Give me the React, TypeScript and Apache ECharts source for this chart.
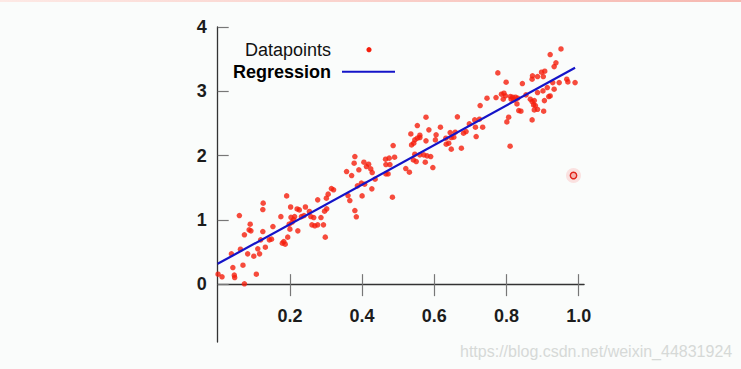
import React, { useEffect, useRef } from "react";
import * as echarts from "echarts";

const xTicks = [0.2, 0.4, 0.6, 0.8, 1.0];
const yTicks = [0, 1, 2, 3, 4];
const legendNames = ["Datapoints", "Regression"];
const watermark = "https://blog.csdn.net/weixin_44831924";

const regressionLine = [
  [0, 0.316],
  [0.99, 3.365],
];

const pointsA = [
  [0.191, 1.373], [0.126, 1.26], [0.125, 1.16], [0.202, 1.2], [0.22, 1.17], [0.226, 1.155],
  [0.243, 1.2], [0.06, 1.067], [0.175, 1.05], [0.203, 1.04], [0.213, 1.05], [0.232, 1.05],
  [0.239, 1.067], [0.21, 1.005], [0.206, 0.964], [0.09, 0.933], [0.153, 0.896], [0.198, 0.933],
  [0.087, 0.845], [0.092, 0.829], [0.125, 0.818], [0.2, 0.855], [0.222, 0.829], [0.074, 0.767],
  [0.194, 0.731], [0.119, 0.689], [0.149, 0.7], [0.143, 0.689], [0.183, 0.663], [0.179, 0.638],
  [0.187, 0.622], [0.132, 0.575], [0.111, 0.549], [0.063, 0.544], [0.116, 0.471], [0.083, 0.471],
  [0.038, 0.471], [0.1, 0.435], [0.07, 0.295], [0.042, 0.258], [0.001, 0.155], [0.012, 0.114],
  [0.046, 0.14], [0.047, 0.103], [0.107, 0.155], [0.074, 0.005],
];

const pointsB = [
  [0.486, 2.156], [0.38, 1.985], [0.465, 1.944], [0.475, 1.96], [0.49, 1.975], [0.378, 1.882],
  [0.405, 1.897], [0.418, 1.866], [0.466, 1.86], [0.477, 1.86], [0.412, 1.829], [0.391, 1.778],
  [0.424, 1.793], [0.357, 1.751], [0.428, 1.736], [0.371, 1.689], [0.466, 1.715], [0.472, 1.715],
  [0.436, 1.633], [0.398, 1.571], [0.407, 1.555], [0.387, 1.529], [0.315, 1.487], [0.321, 1.467],
  [0.427, 1.482], [0.306, 1.4], [0.361, 1.378], [0.4, 1.373], [0.484, 1.353], [0.301, 1.337],
  [0.277, 1.311], [0.366, 1.3], [0.302, 1.171], [0.296, 1.135], [0.254, 1.13], [0.38, 1.145],
  [0.258, 1.051], [0.266, 1.036], [0.286, 1.036], [0.384, 1.047], [0.261, 0.922], [0.277, 0.922],
  [0.269, 0.907], [0.293, 0.922], [0.298, 0.731],
];

const pointsC = [
  [0.746, 2.893], [0.727, 2.778], [0.577, 2.597], [0.664, 2.602], [0.553, 2.467], [0.697, 2.493],
  [0.712, 2.555], [0.725, 2.566], [0.714, 2.442], [0.734, 2.442], [0.617, 2.442], [0.585, 2.4],
  [0.535, 2.337], [0.56, 2.317], [0.605, 2.322], [0.644, 2.358], [0.658, 2.364], [0.681, 2.348],
  [0.688, 2.373], [0.553, 2.27], [0.546, 2.244], [0.56, 2.28], [0.632, 2.27], [0.647, 2.28],
  [0.654, 2.286], [0.577, 2.229], [0.603, 2.244], [0.716, 2.296], [0.537, 2.166], [0.543, 2.193],
  [0.64, 2.193], [0.633, 2.177], [0.675, 2.115], [0.647, 2.1], [0.546, 2.022], [0.56, 2.011],
  [0.571, 2.011], [0.58, 1.995], [0.59, 1.985], [0.542, 1.933], [0.55, 1.907], [0.575, 1.897],
  [0.521, 1.798], [0.531, 1.742], [0.596, 1.813],
];

const pointsD = [
  [0.951, 3.659], [0.921, 3.571], [0.937, 3.442], [0.932, 3.384], [0.776, 3.286], [0.799, 3.141],
  [0.844, 3.12], [0.872, 3.24], [0.886, 3.229], [0.902, 3.229], [0.871, 3.188], [0.897, 3.297],
  [0.906, 3.313], [0.928, 3.135], [0.946, 3.135], [0.967, 3.188], [0.97, 3.146], [0.99, 3.135],
  [0.913, 3.058], [0.932, 3.033], [0.901, 3.006], [0.886, 2.98], [0.793, 2.97], [0.797, 2.928],
  [0.786, 2.955], [0.771, 2.902], [0.811, 2.918], [0.817, 2.908], [0.825, 2.908], [0.791, 2.877],
  [0.813, 2.877], [0.82, 2.866], [0.831, 2.893], [0.854, 2.944], [0.921, 2.928], [0.917, 2.918],
  [0.866, 2.877], [0.871, 2.84], [0.877, 2.855], [0.905, 2.855], [0.829, 2.804], [0.875, 2.788],
  [0.88, 2.778], [0.834, 2.7], [0.84, 2.69], [0.877, 2.71], [0.886, 2.72], [0.903, 2.69],
  [0.806, 2.597], [0.801, 2.524], [0.871, 2.555], [0.81, 2.146],
];

const FONT = "'Liberation Sans', Arial, Helvetica, sans-serif";
const RED = "#f51e0c";
const BLUE = "#1414c8";

// layout of the plot area (pixels)
const GRID_LEFT = 217.7;
const GRID_TOP = 27;
const GRID_W = 366.4;
const GRID_H = 315;
const Y_MIN = -0.9;
const Y_MAX = 4;
const ZERO_OFFSET = -(GRID_H * (0 - Y_MIN)) / (Y_MAX - Y_MIN);

export default function App() {
  const ref = useRef<HTMLDivElement>(null);

  useEffect(() => {
    if (!ref.current) return;
    const chart = echarts.init(ref.current, undefined, { renderer: "svg" });
    const axisLabelStyle = {
      fontFamily: FONT,
      fontSize: 18,
      fontWeight: "bold" as const,
      color: "#1c1c1c",
    };
    const option: any = {
      animation: false,
      backgroundColor: "#fafcfb",
      grid: {
        left: GRID_LEFT,
        top: GRID_TOP,
        width: GRID_W,
        height: GRID_H,
        containLabel: false,
        outerBoundsMode: "none",
      },
      xAxis: [
        {
          type: "value",
          position: "bottom",
          offset: ZERO_OFFSET,
          min: 0,
          max: 1.015,
          axisLine: { show: true, onZero: false, lineStyle: { color: "#333", width: 1.3 } },
          axisTick: { show: true, customValues: xTicks, length: 12, lineStyle: { color: "#777", width: 1.2 } },
          axisLabel: {
            customValues: xTicks,
            margin: 23,
            formatter: (v: number) => v.toFixed(1),
            ...axisLabelStyle,
          },
          splitLine: { show: false },
        },
        {
          type: "value",
          position: "bottom",
          offset: ZERO_OFFSET,
          min: 0,
          max: 1.015,
          axisLine: { show: false, onZero: false },
          axisTick: {
            show: true,
            inside: true,
            customValues: xTicks,
            length: 10,
            lineStyle: { color: "#777", width: 1.2 },
          },
          axisLabel: { show: false },
          splitLine: { show: false },
        },
      ],
      yAxis: {
        type: "value",
        min: Y_MIN,
        max: Y_MAX,
        axisLine: { show: true, onZero: false, lineStyle: { color: "#333", width: 1.3 } },
        axisTick: { show: true, inside: true, customValues: yTicks, length: 11, lineStyle: { color: "#777", width: 1.2 } },
        axisLabel: { customValues: yTicks, margin: 11, ...axisLabelStyle },
        splitLine: { show: false },
      },
      series: [
        {
          name: legendNames[0],
          type: "scatter",
          data: [...pointsA, ...pointsB, ...pointsC, ...pointsD],
          symbolSize: 5.5,
          itemStyle: { color: RED },
          clip: false,
        },
        {
          name: legendNames[1],
          type: "line",
          data: regressionLine,
          symbol: "none",
          lineStyle: { color: BLUE, width: 2.2 },
        },
      ],
      graphic: [
        {
          type: "rect",
          shape: { x: 0, y: 0, width: 741, height: 2 },
          style: {
            fill: new echarts.graphic.LinearGradient(0, 0, 1, 0, [
              { offset: 0, color: "#fde9e5" },
              { offset: 1, color: "#f6b8b0" },
            ]),
          },
        },
        {
          type: "text",
          x: 331,
          y: 49.7,
          style: {
            text: legendNames[0],
            font: `normal 18px ${FONT}`,
            fill: "#111",
            align: "right",
            verticalAlign: "middle",
          },
        },
        { type: "circle", shape: { cx: 369, cy: 49.7, r: 2.6 }, style: { fill: RED } },
        {
          type: "text",
          x: 331,
          y: 71.7,
          style: {
            text: legendNames[1],
            font: `bold 18px ${FONT}`,
            fill: "#000",
            align: "right",
            verticalAlign: "middle",
          },
        },
        {
          type: "line",
          shape: { x1: 342, y1: 71.7, x2: 395, y2: 71.7 },
          style: { stroke: BLUE, lineWidth: 2 },
        },
        { type: "circle", shape: { cx: 573.5, cy: 175.5, r: 7.5 }, style: { fill: "rgba(255,90,90,0.16)" } },
        {
          type: "circle",
          shape: { cx: 573.5, cy: 175.5, r: 3.2 },
          style: { fill: "#f6b4b0", stroke: "#e0241c", lineWidth: 1.4 },
        },
        {
          type: "text",
          x: 460,
          y: 351,
          style: {
            text: watermark,
            font: `normal 16px ${FONT}`,
            fill: "#d6d9d7",
            align: "left",
            verticalAlign: "middle",
          },
        },
      ],
    };
    chart.setOption(option);
    return () => chart.dispose();
  }, []);

  return (
    <div
      ref={ref}
      style={{ position: "fixed", left: 0, top: 0, width: 741, height: 369 }}
    />
  );
}
